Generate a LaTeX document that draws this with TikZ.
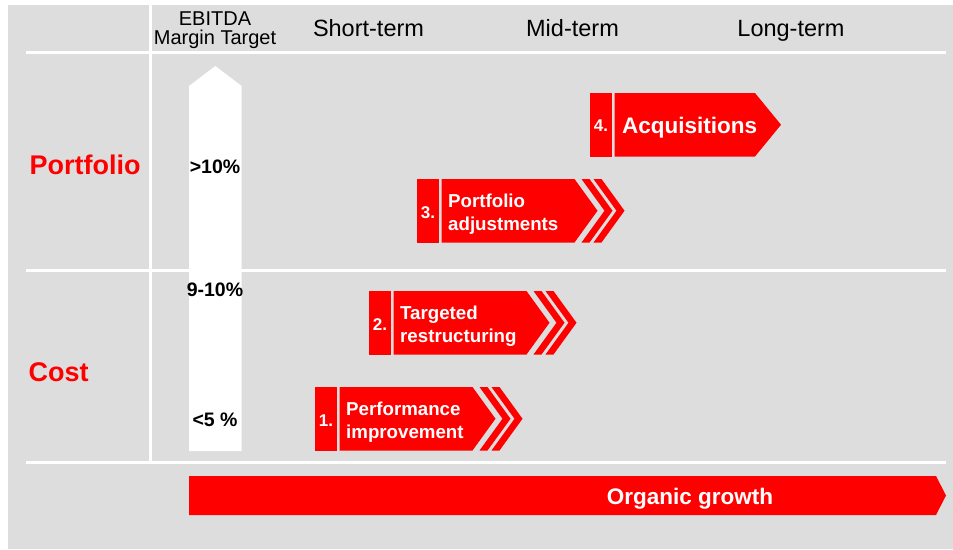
\documentclass[tikz,border=0pt]{standalone}
\usepackage{fontspec}
\setmainfont{Liberation Sans}
\usetikzlibrary{positioning}
\definecolor{bggrey}{HTML}{DDDDDD}
\definecolor{chevred}{HTML}{FF0000}

\begin{document}
\begin{tikzpicture}[x=1pt,y=-1pt]
		\tikzstyle{every node}=[inner sep=0pt]
		\tikzstyle{header}=[font=\fontsize{23.5}{19}\selectfont, anchor=base]
		\tikzstyle{ebitda}=[font=\fontsize{20}{19}\selectfont, align=center]
		\tikzstyle{rowlabel}=[font=\fontsize{27}{28}\selectfont\bfseries, text=chevred, anchor=west]
		\tikzstyle{pct}=[font=\fontsize{19.5}{20}\selectfont\bfseries]
		\tikzstyle{numlabel}=[font=\fontsize{17}{17}\selectfont\bfseries, text=white]
		\tikzstyle{steplabel}=[font=\fontsize{18.7}{23}\selectfont\bfseries, text=white, anchor=west, align=left]
		\tikzstyle{biglabel}=[font=\fontsize{22.5}{22}\selectfont\bfseries, text=white, text depth=0pt]
		\tikzstyle{gridline}=[white, line width=3pt]
		\useasboundingbox (0,0) rectangle (953,549);
		\fill [bggrey] (8,5) rectangle (953,549);
		% grid lines
		\draw [gridline] (26,52) -- (946,52);
		\draw [gridline] (26,270) -- (946,270);
		\draw [gridline] (26,462) -- (946,462);
		\draw [gridline] (150.5,5) -- (150.5,462);
		% column headers
		\node [ebitda] (target) at (215,30.5) {EBITDA\\Margin Target};
		\node [header] (short) at (368.5,36.5) {Short-term};
		\node [header] (mid) at (572.5,36.5) {Mid-term};
		\node [header] (long) at (791,36.5) {Long-term};
		% row labels
		\node [rowlabel] (portfolio) at (29.5,165) {Portfolio};
		\node [rowlabel] (cost) at (28.5,372) {Cost};
		% margin arrow
		\fill [white] (189,451) -- (189,86) -- (215.3,66) -- (241.7,86) -- (241.7,451) -- cycle;
		\node [pct] (high) at (215,167) {>10\%};
		\node [pct] (medium) at (215,290) {9-10\%};
		\node [pct] (low) at (215,420) {<5 \%};
		% 4. acquisitions
		\begin{scope}[shift={(590,93)}]
			\fill [chevred] (0,0) rectangle (22,63.5);
			\fill [chevred] (24.5,0) -- (165,0) -- (191,31.75) -- (165,63.5) -- (24.5,63.5) -- cycle;
			\node [numlabel] (num4) at (11,33) {4.};
			\node [biglabel, anchor=west] (acq) at (32,32.5) {Acquisitions};
		\end{scope}
		% 3. portfolio adjustments
		\begin{scope}[shift={(417,179)}]
			\fill [chevred] (0,0) rectangle (22,63.5);
			\fill [chevred] (24.5,0) -- (157.5,0) -- (180.5,31.75) -- (157.5,63.5) -- (24.5,63.5) -- cycle;
			\foreach \s in {164.5,176.5}
				\fill [chevred] (\s,0) -- ++(8,0) -- ++(23,31.75) -- ++(-23,31.75) -- ++(-8,0) -- ++(23,-31.75) -- cycle;
			\node [numlabel] (num3) at (11,34) {3.};
			\node [steplabel] (adj) at (31,35) {Portfolio\\adjustments};
		\end{scope}
		% 2. targeted restructuring
		\begin{scope}[shift={(369,291)}]
			\fill [chevred] (0,0) rectangle (22,63.5);
			\fill [chevred] (24.5,0) -- (157.5,0) -- (180.5,31.75) -- (157.5,63.5) -- (24.5,63.5) -- cycle;
			\foreach \s in {164.5,176.5}
				\fill [chevred] (\s,0) -- ++(8,0) -- ++(23,31.75) -- ++(-23,31.75) -- ++(-8,0) -- ++(23,-31.75) -- cycle;
			\node [numlabel] (num2) at (11,34) {2.};
			\node [steplabel] (restr) at (31,35) {Targeted\\restructuring};
		\end{scope}
		% 1. performance improvement
		\begin{scope}[shift={(315,387)}]
			\fill [chevred] (0,0) rectangle (22,63.5);
			\fill [chevred] (24.5,0) -- (157.5,0) -- (180.5,31.75) -- (157.5,63.5) -- (24.5,63.5) -- cycle;
			\foreach \s in {164.5,176.5}
				\fill [chevred] (\s,0) -- ++(8,0) -- ++(23,31.75) -- ++(-23,31.75) -- ++(-8,0) -- ++(23,-31.75) -- cycle;
			\node [numlabel] (num1) at (11,34) {1.};
			\node [steplabel] (perf) at (31,35) {Performance\\improvement};
		\end{scope}
		% organic growth
		\fill [chevred] (189,476) -- (936,476) -- (946,495.5) -- (936,515) -- (189,515) -- cycle;
		\node [biglabel] (organic) at (690,496.5) {Organic growth};
\end{tikzpicture}
\end{document}
